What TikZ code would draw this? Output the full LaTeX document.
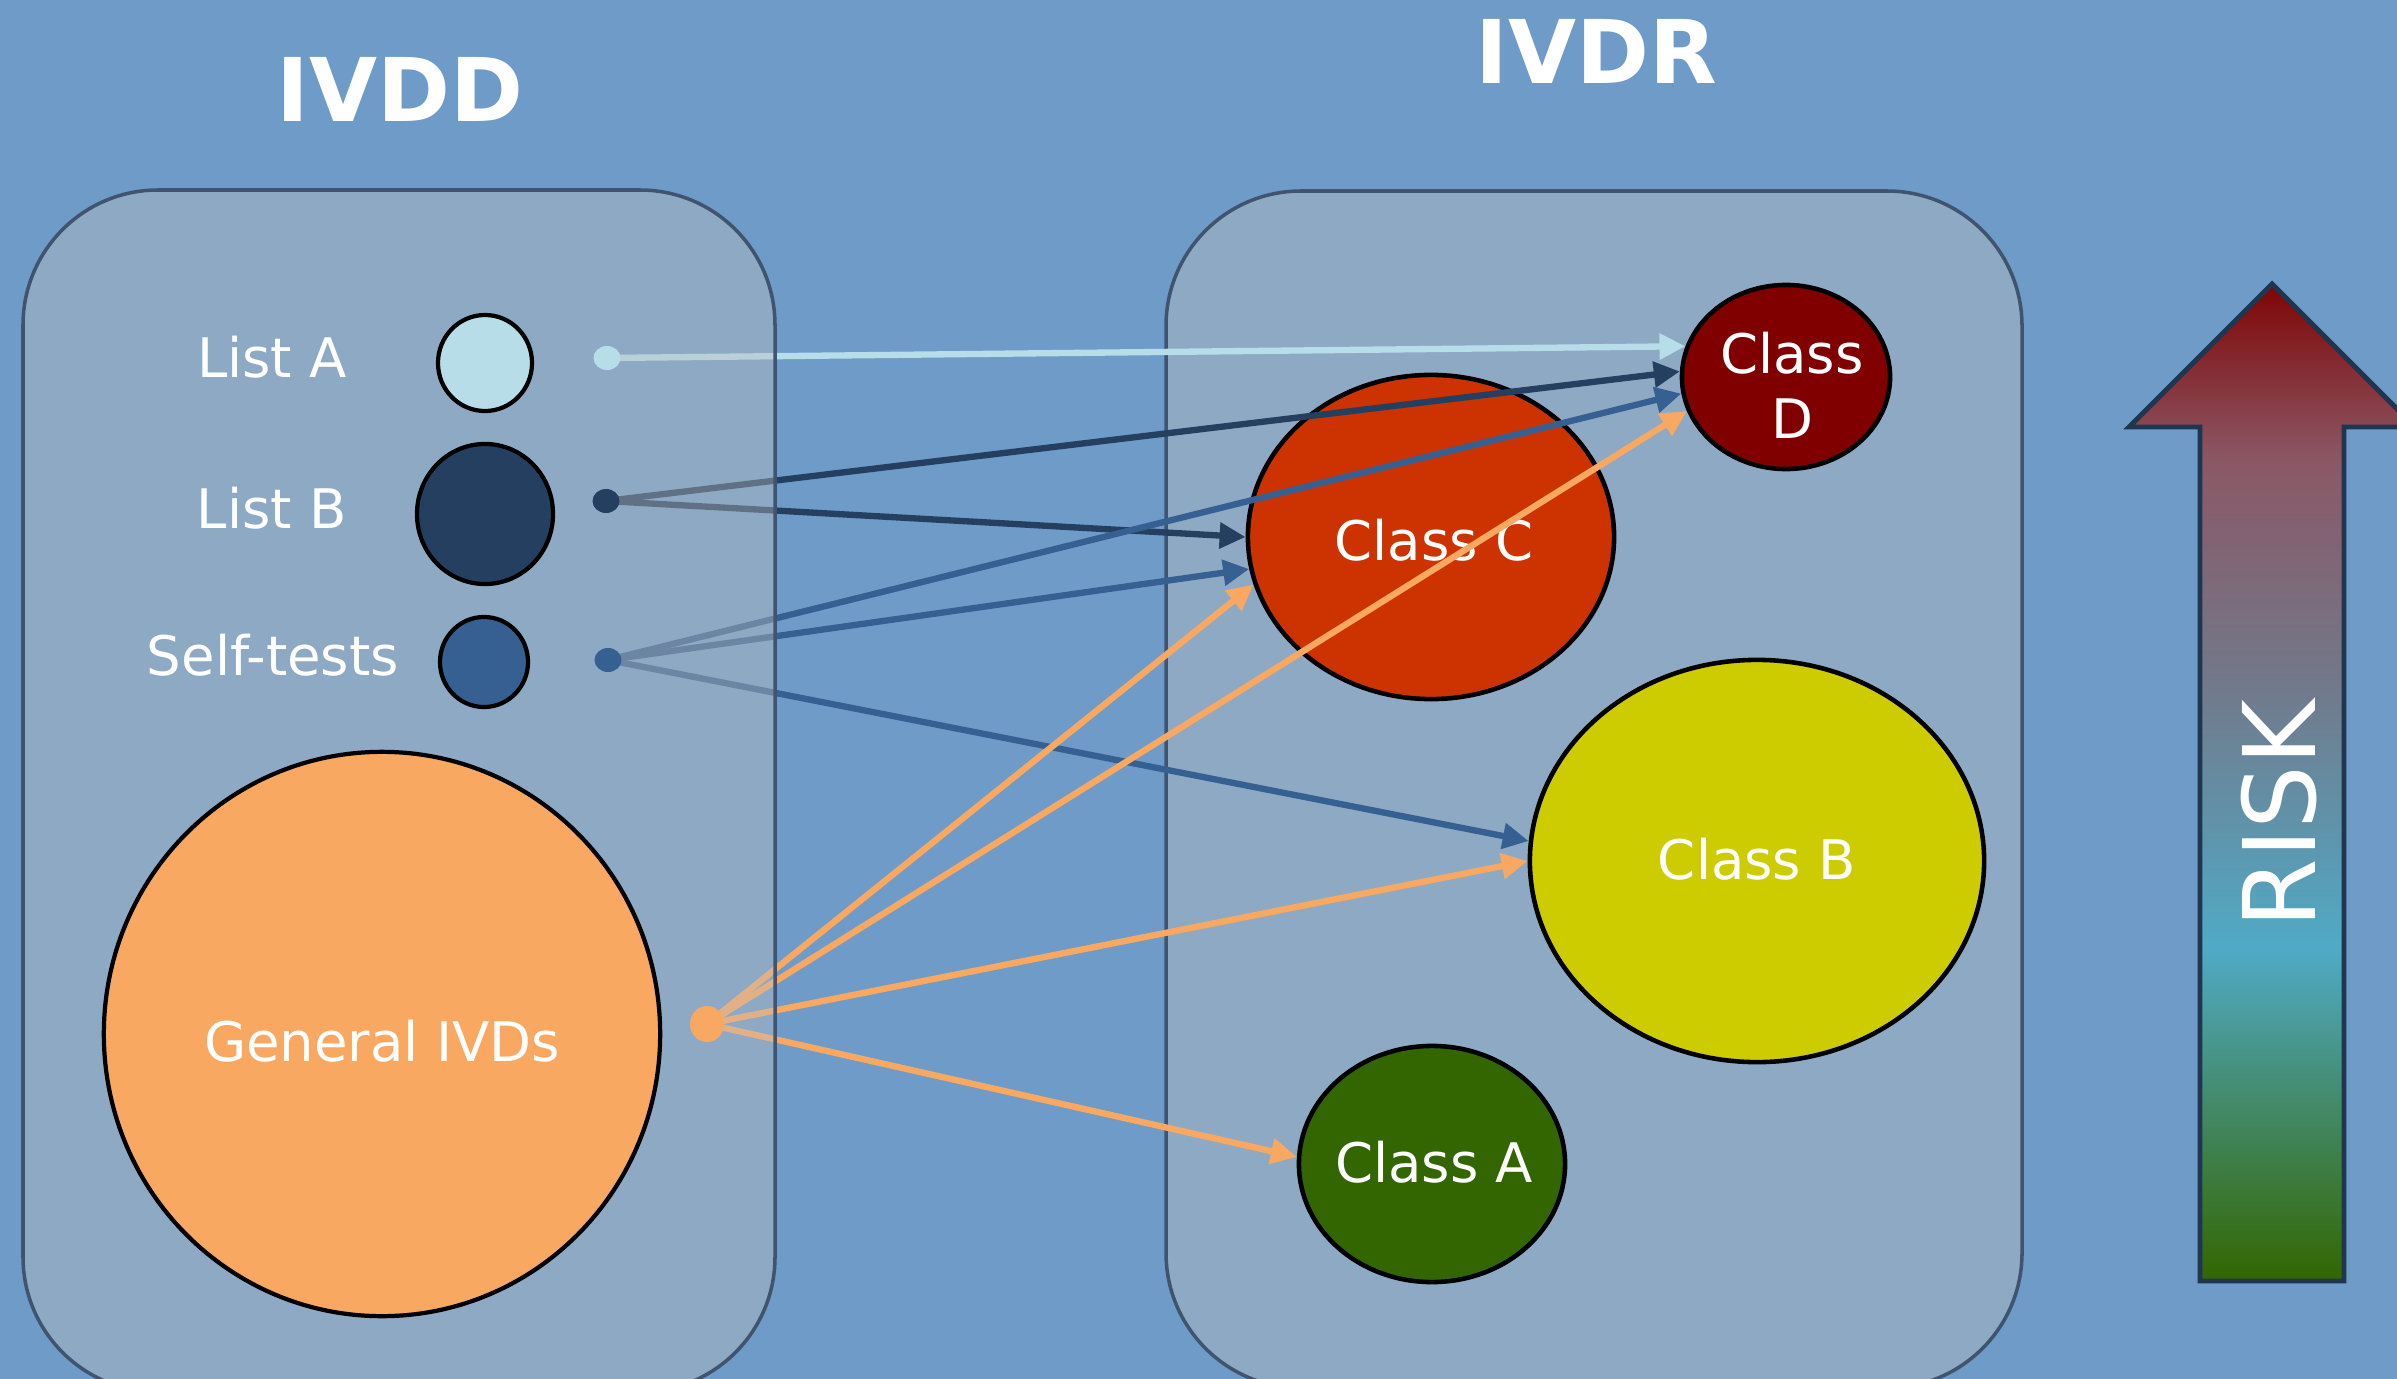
\documentclass[tikz,border=0pt]{standalone}
\usepackage{fontspec}
\setmainfont{DejaVu Sans}
\usetikzlibrary{shapes.geometric,arrows.meta}
\definecolor{bgblue}{HTML}{6E9BC8}
\definecolor{boxgrey}{HTML}{BEBEBE}
\definecolor{boxedge}{HTML}{405470}
\definecolor{lista}{HTML}{B7DDE8}
\definecolor{listb}{HTML}{243F60}
\definecolor{selft}{HTML}{366092}
\definecolor{general}{HTML}{F9A862}
\definecolor{classd}{HTML}{800000}
\definecolor{classc}{HTML}{CC3300}
\definecolor{classb}{HTML}{CCCC00}
\definecolor{classa}{HTML}{336600}
\definecolor{riskred}{HTML}{7F0505}
\definecolor{riskrose}{HTML}{8B5765}
\definecolor{riskgrey}{HTML}{717A8C}
\definecolor{riskcyan}{HTML}{50AAC6}
\definecolor{riskgreen}{HTML}{336600}
\definecolor{riskedge}{HTML}{1F3550}
\pgfdeclareverticalshading{riskshade}{100bp}{color(0bp)=(riskgreen); color(25bp)=(riskgreen); color(41.7bp)=(riskcyan); color(54.6bp)=(riskgrey); color(66.2bp)=(riskrose); color(75bp)=(riskred); color(100bp)=(riskred)}
\begin{document}
\begin{tikzpicture}[x=0.01cm,y=-0.01cm,
   font=\fontsize{15.5pt}{18.5pt}\selectfont,
   regbox/.style={draw=boxedge,line width=1pt,fill=boxgrey,fill opacity=0.4,rounded corners=1.35cm},
   title/.style={text=white,anchor=base,font=\fontsize{25pt}{30pt}\selectfont\bfseries},
   lbl/.style={text=white,anchor=base},
   lst/.style={ellipse,draw=black,line width=1.2pt,inner sep=0pt},
   cls/.style={ellipse,draw=black,line width=1.3pt,inner sep=0pt},
   clstext/.style={text=white,align=center},
   dot/.style={ellipse,inner sep=0pt,minimum width=0.27cm,minimum height=0.24cm},
   to/.style={-{Triangle[length=0.26cm,width=0.25cm]},line width=1.8pt}]
\useasboundingbox (0,0) rectangle (2397,1379);
\fill[bgblue] (0,0) rectangle (2397,1379);
\node[title] (IVDD) at (400,122) {IVDD};
\node[title] (IVDR) at (1596,84) {IVDR};
% IVDR side
\draw[regbox] (1166,191) rectangle (2022,1388);
\node[cls,fill=classd,minimum width=2.08cm,minimum height=1.84cm] (D) at (1786,377) {};
\node[cls,fill=classc,minimum width=3.66cm,minimum height=3.24cm] (C) at (1431,537) {};
\node[cls,fill=classb,minimum width=4.54cm,minimum height=4.02cm] (B) at (1757,861) {};
\node[cls,fill=classa,minimum width=2.66cm,minimum height=2.36cm] (A) at (1432,1164) {};
\node[clstext] (Dtext) at (1792,385) {Class\\D};
\node[clstext] (Ctext) at (1434,540) {Class C};
\node[clstext] (Btext) at (1757,859) {Class B};
\node[clstext] (Atext) at (1434,1162) {Class A};
% where the arrows start
\coordinate (dA) at (607,358);
\coordinate (dB) at (606,501);
\coordinate (dS) at (608,660);
\coordinate (dG) at (707,1024);
\draw[to,lista]   (dA) -- (D.163);
\draw[to,listb]   (dB) -- (D.177);
\draw[to,listb]   (dB) -- (C.180);
\draw[to,selft]   (dS) -- (D.189);
\draw[to,selft]   (dS) -- (C.190);
\draw[to,selft]   (dS) -- (B.175);
\draw[to,general] (dG) -- (D.199);
\draw[to,general] (dG) -- (C.195);
\draw[to,general] (dG) -- (B.180);
\draw[to,general] (dG) -- (A.177);
% IVDD side
\draw[regbox] (23,190) rectangle (775,1392);
\node[lbl] (tA) at (272,377) {List A};
\node[lbl] (tB) at (272,528) {List B};
\node[lbl] (tS) at (273,675) {Self-tests};
\node[lst,fill=lista,minimum width=0.94cm,minimum height=0.96cm] (LA) at (485,363) {};
\node[lst,fill=listb,minimum width=1.36cm,minimum height=1.40cm] (LB) at (485,514) {};
\node[lst,fill=selft,minimum width=0.88cm,minimum height=0.90cm] (SF) at (484,662) {};
\node[lst,fill=general,minimum width=5.56cm,minimum height=5.64cm] (G) at (382,1034) {};
\node[clstext] (Gtext) at (382,1041) {General IVDs};
\node[dot,fill=lista] at (dA) {};
\node[dot,fill=listb] at (dB) {};
\node[dot,fill=selft] at (dS) {};
\node[dot,fill=general,minimum width=0.34cm,minimum height=0.36cm] at (dG) {};
% risk arrow
\draw[riskedge,line width=1.4pt,shading=riskshade] (2200,1281) -- (2200,427) -- (2129,427) -- (2272,284) -- (2415,427) -- (2344,427) -- (2344,1281) -- cycle;
\node[text=white,rotate=90,font=\fontsize{28.5pt}{34pt}\selectfont] (risk) at (2279,814) {RISK};
\end{tikzpicture}
\end{document}
